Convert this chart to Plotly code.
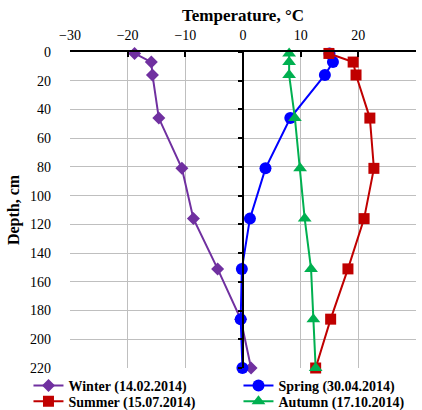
import plotly.graph_objects as go

# Soil temperature profiles by season
depth_cm = [1, 7, 16, 46, 81, 116, 151, 186, 220]
winter = [-18.8, -15.9, -15.7, -14.6, -10.6, -8.6, -4.4, -0.4, 1.4]
spring = [15.0, 15.6, 14.2, 8.2, 3.9, 1.2, -0.2, -0.4, -0.1]
summer = [14.9, 19.1, 19.6, 22.0, 22.7, 21.0, 18.2, 15.2, 12.6]
autumn = [8.0, 8.0, 8.0, 9.0, 9.9, 10.7, 11.8, 12.2, 12.6]

series_names = ["Winter (14.02.2014)", "Spring (30.04.2014)",
                "Summer (15.07.2014)", "Autumn (17.10.2014)"]
series_values = [winter, spring, summer, autumn]
colors = ["#7030a0", "#0000ff", "#c00000", "#00b050"]
symbols = ["diamond", "circle", "square", "triangle-up"]
sizes = [10, 12, 11, 12]
legend_rows = ["legend", "legend", "legend2", "legend2"]

x_ticks = [-30, -20, -10, 0, 10, 20, 30]
y_ticks = list(range(0, 221, 20))

FONT = "Liberation Serif, Times New Roman, serif"

fig = go.Figure()
for name, vals, col, sym, sz, lg in zip(series_names, series_values, colors,
                                         symbols, sizes, legend_rows):
    fig.add_trace(go.Scatter(
        x=vals, y=depth_cm, name=name, mode="lines+markers",
        line=dict(color=col, width=2),
        marker=dict(color=col, symbol=sym, size=sz),
        cliponaxis=False, legend=lg,
    ))

# invisible trace carrying the secondary y axis (ticks along x = 0)
fig.add_trace(go.Scatter(x=[0], y=[0], yaxis="y2", showlegend=False,
                         mode="markers", marker=dict(opacity=0), hoverinfo="skip"))

legend_style = dict(
    orientation="h", x=-0.12, xanchor="left", yanchor="top",
    entrywidth=165, entrywidthmode="pixels",
    font=dict(size=14, family=FONT, weight="bold"),
    itemwidth=30, tracegroupgap=0, bgcolor="rgba(0,0,0,0)",
)

fig.update_layout(
    width=422, height=410,
    margin=dict(l=70, r=6, t=52, b=42, autoexpand=False),
    paper_bgcolor="white", plot_bgcolor="white",
    font=dict(family=FONT, size=14, color="black"),
    xaxis=dict(
        side="top", range=[-30, 30], tickvals=x_ticks,
        showgrid=True, gridcolor="#bfbfbf", gridwidth=1,
        zeroline=False, showline=True, linecolor="black", linewidth=2,
        ticks="inside", ticklen=5, tickcolor="black", tickwidth=1.5,
        tickfont=dict(size=14, family=FONT), ticklabelstandoff=4,
        title=dict(text="<b>Temperature, °C</b>", font=dict(size=17, family=FONT), standoff=2),
    ),
    yaxis=dict(
        range=[220, 0], tickvals=y_ticks,
        showgrid=True, gridcolor="#bfbfbf", gridwidth=1,
        zeroline=False, showline=False, ticks="",
        tickfont=dict(size=14, family=FONT), ticklabelstandoff=18,
        title=dict(text="<b>Depth, cm</b>", font=dict(size=16, family=FONT), standoff=6),
    ),
    yaxis2=dict(
        overlaying="y", anchor="free", position=0.5, side="left",
        range=[220, 0], tickvals=y_ticks, showticklabels=False,
        showgrid=False, zeroline=False,
        showline=True, linecolor="black", linewidth=2,
        ticks="outside", ticklen=4, tickcolor="black", tickwidth=1.5,
    ),
    legend=dict(legend_style, y=-0.006),
    legend2=dict(legend_style, y=-0.056),
    showlegend=True,
)

fig.write_html("out.html")
